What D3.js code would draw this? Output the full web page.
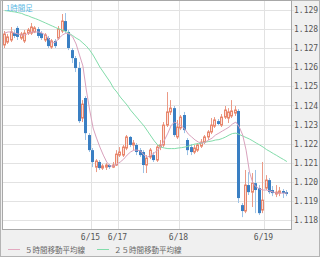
<!DOCTYPE html>
<html><head><meta charset="utf-8">
<script src="https://cdn.jsdelivr.net/npm/d3@7"></script>
<style>html,body{margin:0;padding:0;background:#f0f0f0;}svg{display:block;}</style>
</head><body>
<svg id="c" width="320" height="257"></svg>
<script>
// ---- data (1-hour candles) ----
const opens = [1.12717,1.12732,1.12743,1.12779,1.12806,1.12753,1.12738,1.12779,1.12779,1.12785,1.12800,1.12779,1.12743,1.12753,1.12706,1.12738,1.12753,1.12790,1.12842,1.12785,1.12690,1.12648,1.12596,1.12334,1.12439,1.12245,1.12166,1.12077,1.12104,1.12072,1.12077,1.12088,1.12077,1.12088,1.12140,1.12140,1.12177,1.12235,1.12193,1.12193,1.12166,1.12156,1.12088,1.12130,1.12140,1.12114,1.12182,1.12193,1.12297,1.12366,1.12386,1.12235,1.12282,1.12350,1.12219,1.12182,1.12156,1.12166,1.12187,1.12208,1.12235,1.12261,1.12292,1.12318,1.12297,1.12339,1.12334,1.12345,1.12360,1.12371,1.11878,1.11847,1.11983,1.11946,1.11993,1.11967,1.11852,1.11967,1.12009,1.11957,1.11936,1.11941,1.11952,1.11946];
const highs = [1.12790,1.12774,1.12811,1.12795,1.12816,1.12785,1.12795,1.12806,1.12832,1.12816,1.12811,1.12790,1.12779,1.12764,1.12748,1.12748,1.12816,1.12879,1.12884,1.12795,1.12701,1.12659,1.12628,1.12428,1.12449,1.12255,1.12177,1.12119,1.12114,1.12093,1.12098,1.12093,1.12104,1.12166,1.12182,1.12193,1.12245,1.12240,1.12219,1.12203,1.12177,1.12166,1.12140,1.12177,1.12156,1.12193,1.12219,1.12313,1.12470,1.12428,1.12397,1.12324,1.12350,1.12366,1.12229,1.12198,1.12193,1.12203,1.12224,1.12245,1.12271,1.12334,1.12339,1.12329,1.12355,1.12397,1.12386,1.12428,1.12397,1.12381,1.11889,1.12062,1.12051,1.12046,1.12062,1.11983,1.12104,1.12035,1.12020,1.11978,1.11983,1.11973,1.11962,1.11957];
const lows = [1.12701,1.12722,1.12732,1.12753,1.12743,1.12743,1.12727,1.12769,1.12769,1.12779,1.12753,1.12743,1.12732,1.12701,1.12696,1.12701,1.12743,1.12779,1.12779,1.12690,1.12622,1.12575,1.12308,1.12313,1.12219,1.12156,1.12077,1.12051,1.12062,1.12062,1.12062,1.12067,1.12072,1.12083,1.12130,1.12130,1.12166,1.12182,1.12166,1.12140,1.12130,1.12046,1.12046,1.12119,1.12104,1.12104,1.12166,1.12182,1.12287,1.12350,1.12235,1.12224,1.12271,1.12255,1.12140,1.12140,1.12145,1.12156,1.12177,1.12198,1.12219,1.12250,1.12282,1.12297,1.12287,1.12329,1.12308,1.12334,1.12345,1.11889,1.11815,1.11836,1.11931,1.11868,1.11836,1.11826,1.11836,1.11957,1.11936,1.11925,1.11920,1.11925,1.11915,1.11925];
const closes = [1.12774,1.12759,1.12785,1.12764,1.12759,1.12774,1.12779,1.12795,1.12811,1.12806,1.12764,1.12753,1.12769,1.12711,1.12738,1.12711,1.12800,1.12842,1.12790,1.12701,1.12648,1.12596,1.12318,1.12407,1.12255,1.12166,1.12104,1.12109,1.12072,1.12083,1.12088,1.12077,1.12088,1.12145,1.12156,1.12182,1.12235,1.12193,1.12203,1.12156,1.12140,1.12088,1.12124,1.12166,1.12114,1.12182,1.12193,1.12297,1.12366,1.12386,1.12245,1.12287,1.12339,1.12271,1.12166,1.12156,1.12177,1.12193,1.12208,1.12235,1.12261,1.12297,1.12324,1.12303,1.12339,1.12376,1.12366,1.12371,1.12376,1.11915,1.11847,1.11983,1.11946,1.11993,1.11957,1.11836,1.11904,1.12009,1.11946,1.11941,1.11946,1.11952,1.11941,1.11936];
const ma5 = [1.12779,1.12785,1.12785,1.12779,1.12774,1.12769,1.12769,1.12779,1.12785,1.12785,1.12785,1.12779,1.12769,1.12748,1.12727,1.12732,1.12753,1.12769,1.12779,1.12774,1.12759,1.12722,1.12664,1.12607,1.12481,1.12376,1.12282,1.12229,1.12182,1.12140,1.12104,1.12083,1.12083,1.12093,1.12104,1.12119,1.12140,1.12156,1.12166,1.12166,1.12161,1.12140,1.12130,1.12140,1.12151,1.12166,1.12187,1.12219,1.12255,1.12297,1.12313,1.12303,1.12292,1.12276,1.12250,1.12235,1.12219,1.12208,1.12203,1.12208,1.12219,1.12229,1.12245,1.12255,1.12266,1.12276,1.12287,1.12303,1.12313,1.12287,1.12245,1.12166,1.12051,1.11993,1.11973,1.11962,1.11957,1.11957,1.11952,1.11946,1.11941,1.11941,1.11941,1.11941];
const ma25 = [1.12897,1.12895,1.12892,1.12890,1.12886,1.12882,1.12874,1.12869,1.12861,1.12855,1.12848,1.12840,1.12832,1.12824,1.12816,1.12808,1.12800,1.12795,1.12787,1.12777,1.12766,1.12753,1.12743,1.12727,1.12711,1.12690,1.12664,1.12633,1.12601,1.12575,1.12549,1.12523,1.12491,1.12470,1.12444,1.12423,1.12402,1.12376,1.12355,1.12334,1.12313,1.12292,1.12266,1.12240,1.12214,1.12193,1.12182,1.12177,1.12174,1.12174,1.12174,1.12177,1.12179,1.12182,1.12187,1.12193,1.12198,1.12200,1.12203,1.12208,1.12211,1.12214,1.12219,1.12221,1.12227,1.12235,1.12245,1.12253,1.12255,1.12248,1.12240,1.12232,1.12224,1.12214,1.12203,1.12193,1.12182,1.12169,1.12159,1.12148,1.12138,1.12127,1.12117,1.12106];
const yTicks = [1.118,1.119,1.120,1.121,1.122,1.123,1.124,1.125,1.126,1.127,1.128,1.129];
const xTickIdx = [25, 33, 51, 76];
const xTickLabels = ["6/15", "6/17", "6/18", "6/19"];
const slots = 85;
const titleText = "1時間足";
const legendNames = ["５時間移動平均線", "２５時間移動平均線"];

// ---- layout ----
const W = 320, H = 257;
const L = 3, R = 291, T = 0, B = 229;
const svg = d3.select("#c");
const x = d3.scaleBand().domain(d3.range(slots)).range([L, R + 1]).paddingInner(0);
const y = d3.scaleLinear().domain([1.118, 1.129]).range([220, 10]);
const cx = i => x(i) + x.step() / 2;

svg.append("rect").attr("x", 0.5).attr("y", 0.5).attr("width", W - 1).attr("height", H - 1)
  .attr("fill", "#f0f0f0").attr("stroke", "#b4b4b4");
svg.append("rect").attr("x", L).attr("y", T).attr("width", R - L).attr("height", B - T).attr("fill", "#fff");

svg.append("clipPath").attr("id", "clip").append("rect")
  .attr("x", L).attr("y", T).attr("width", R - L).attr("height", B - T);

// horizontal gridlines
const gy = svg.append("g").attr("transform", `translate(${L},0)`)
  .call(d3.axisRight(y).tickValues(yTicks).tickSize(R - L + 3).tickFormat(""));
gy.select(".domain").remove();
gy.selectAll(".tick line").attr("stroke", "#e2e2e2").attr("shape-rendering", "crispEdges");

// vertical gridlines
const gx = svg.append("g").attr("transform", `translate(0,${T})`)
  .call(d3.axisBottom(d3.scaleLinear().domain([L, R]).range([L, R]))
    .tickValues(xTickIdx.map(i => Math.round(cx(i)) + 0.5)).tickSize(B - T).tickFormat(""));
gx.select(".domain").remove();
gx.selectAll(".tick line").attr("stroke", "#e2e2e2").attr("shape-rendering", "crispEdges");

// candles
const plot = svg.append("g").attr("clip-path", "url(#clip)");
const n = closes.length;
const idx = d3.range(n);
const up = i => closes[i] >= opens[i];
const left = i => Math.floor(cx(i) - 1.5);
plot.selectAll("line.wick").data(idx).join("line").attr("class", "wick")
  .attr("x1", i => left(i) + 1.5).attr("x2", i => left(i) + 1.5)
  .attr("y1", i => y(highs[i])).attr("y2", i => y(lows[i]))
  .attr("stroke", i => up(i) ? "#eb9a86" : "#9cc2e6").attr("stroke-width", 1);
plot.selectAll("rect.body").data(idx).join("rect").attr("class", "body")
  .attr("x", i => up(i) ? left(i) + 0.5 : left(i))
  .attr("width", i => up(i) ? 2 : 3)
  .attr("y", i => y(Math.max(opens[i], closes[i])))
  .attr("height", i => Math.max(1, Math.abs(y(opens[i]) - y(closes[i]))))
  .attr("fill", i => up(i) ? "#fbe0d8" : "#3a7fc3")
  .attr("stroke", i => up(i) ? "#e8866c" : "none").attr("stroke-width", 1);

// moving averages
const line = arr => d3.line().x((d, i) => cx(i)).y(d => y(d))(arr);
plot.append("path").attr("d", line(ma25)).attr("fill", "none").attr("stroke", "#82dcaa").attr("stroke-width", 1);
plot.append("path").attr("d", line(ma5)).attr("fill", "none").attr("stroke", "#d9a2bd").attr("stroke-width", 1);

// frame
svg.append("rect").attr("x", L - 0.5).attr("y", T + 0.5).attr("width", R - L + 1).attr("height", B - T)
  .attr("fill", "none").attr("stroke", "#a8a8a8");

// y labels
const ya = svg.append("g").attr("transform", `translate(${R + 1},0)`)
  .call(d3.axisRight(y).tickValues(yTicks).tickSize(0).tickPadding(2).tickFormat(d3.format(".3f")));
ya.select(".domain").remove();
ya.selectAll("text").attr("font-family", "'DejaVu Sans Mono', monospace").attr("font-size", "8px").attr("fill", "#555");

// x labels
svg.selectAll("text.xl").data(xTickIdx).join("text").attr("class", "xl")
  .attr("x", i => Math.round(cx(i)) + 0.5).attr("y", 240).attr("text-anchor", "middle")
  .attr("font-family", "'DejaVu Sans Mono', monospace").attr("font-size", "8px").attr("fill", "#555")
  .text((d, k) => xTickLabels[k]);

// title
svg.append("text").attr("x", 6).attr("y", 11).text(titleText)
  .attr("font-family", "'Noto Sans CJK JP', sans-serif").attr("font-size", "7.5px").attr("fill", "#5ab8e4");

// legend
const legColors = ["#e3a9c0", "#82dcaa"];
const legX = [8, 97];
legendNames.forEach((name, k) => {
  svg.append("line").attr("x1", legX[k]).attr("x2", legX[k] + 12).attr("y1", 249.5).attr("y2", 249.5)
    .attr("stroke", legColors[k]).attr("stroke-width", 1);
  svg.append("text").attr("x", legX[k] + 17).attr("y", 252.5).text(name)
    .attr("font-family", "'Noto Sans CJK JP', sans-serif").attr("font-size", "7.5px").attr("fill", "#666");
});
</script>
</body></html>
